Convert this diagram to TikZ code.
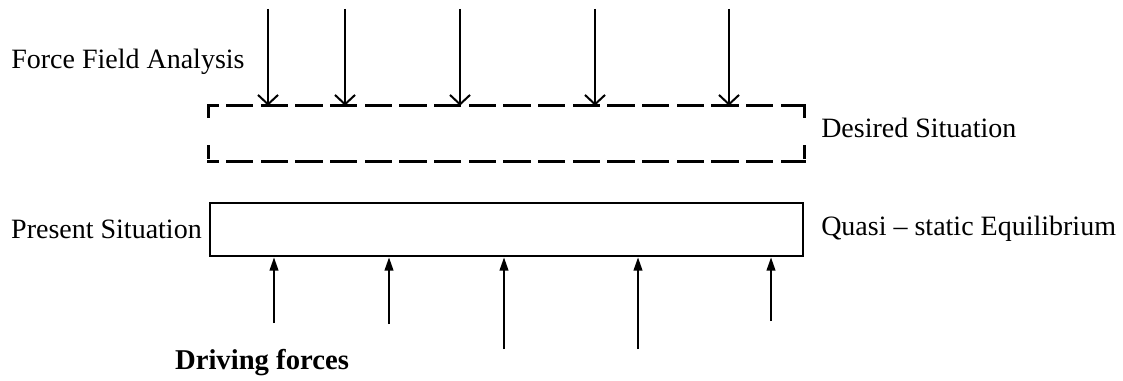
\documentclass[tikz,border=0pt]{standalone}
\usepackage{fontspec}
\setmainfont{Liberation Serif}
\usetikzlibrary{arrows.meta}
\begin{document}
\begin{tikzpicture}
		[x=0.75pt,y=-0.75pt,
		every node/.style={inner sep=0pt,font=\fontsize{21}{25}\selectfont},
		situation/.style={line width=2pt,minimum width=444.75pt,minimum height=39.75pt},
		hedge/.style={line width=2pt,line cap=rect,dash pattern=on 18.5pt off 7.5pt,dash phase=12pt},
		vedge/.style={line width=2pt,line cap=rect,dash pattern=on 8.5pt off 21.75pt},
		restrain/.style={line width=1.5pt,-{Straight Barb[length=7pt,width=15pt,line width=1.5pt]}},
		drive/.style={line width=1.5pt,-{Triangle[length=10pt,width=6.5pt]}}]
		\useasboundingbox (0,0) rectangle (1123,381);
		% boxes
		\node[situation] (desired) at (506.5,133.5) {};
		\node[situation,draw] (present) at (506.5,229.5) {};
		\draw[hedge] (desired.north west) -- (desired.north east);
		\draw[hedge] (desired.south west) -- (desired.south east);
		\draw[vedge] (desired.north west) -- (desired.south west);
		\draw[vedge] (desired.north east) -- (desired.south east);
		% labels
		\node[anchor=west] (ffa) at (11,62) {Force Field Analysis};
		\node[anchor=west] (want) at (821,128) {Desired Situation};
		\node[anchor=east] (now) at (202,229) {Present Situation};
		\node[anchor=west] (quasi) at (821,229) {Quasi -- static Equilibrium};
		\node[font=\fontsize{21.5}{25}\selectfont\bfseries] (driving) at (262,363) {Driving forces};
		% restraining forces
		\coordinate (r1) at (268,9);
		\coordinate (r2) at (345,9);
		\coordinate (r3) at (460,9);
		\coordinate (r4) at (595,9);
		\coordinate (r5) at (729,9);
		\draw[restrain] (r1) -- (r1 |- desired.north);
		\draw[restrain] (r2) -- (r2 |- desired.north);
		\draw[restrain] (r3) -- (r3 |- desired.north);
		\draw[restrain] (r4) -- (r4 |- desired.north);
		\draw[restrain] (r5) -- (r5 |- desired.north);
		% driving forces
		\coordinate (d1) at (274,323);
		\coordinate (d2) at (389,324);
		\coordinate (d3) at (504,349);
		\coordinate (d4) at (638,349);
		\coordinate (d5) at (771,321);
		\draw[drive] (d1) -- (d1 |- present.south);
		\draw[drive] (d2) -- (d2 |- present.south);
		\draw[drive] (d3) -- (d3 |- present.south);
		\draw[drive] (d4) -- (d4 |- present.south);
		\draw[drive] (d5) -- (d5 |- present.south);
	\end{tikzpicture}
\end{document}
